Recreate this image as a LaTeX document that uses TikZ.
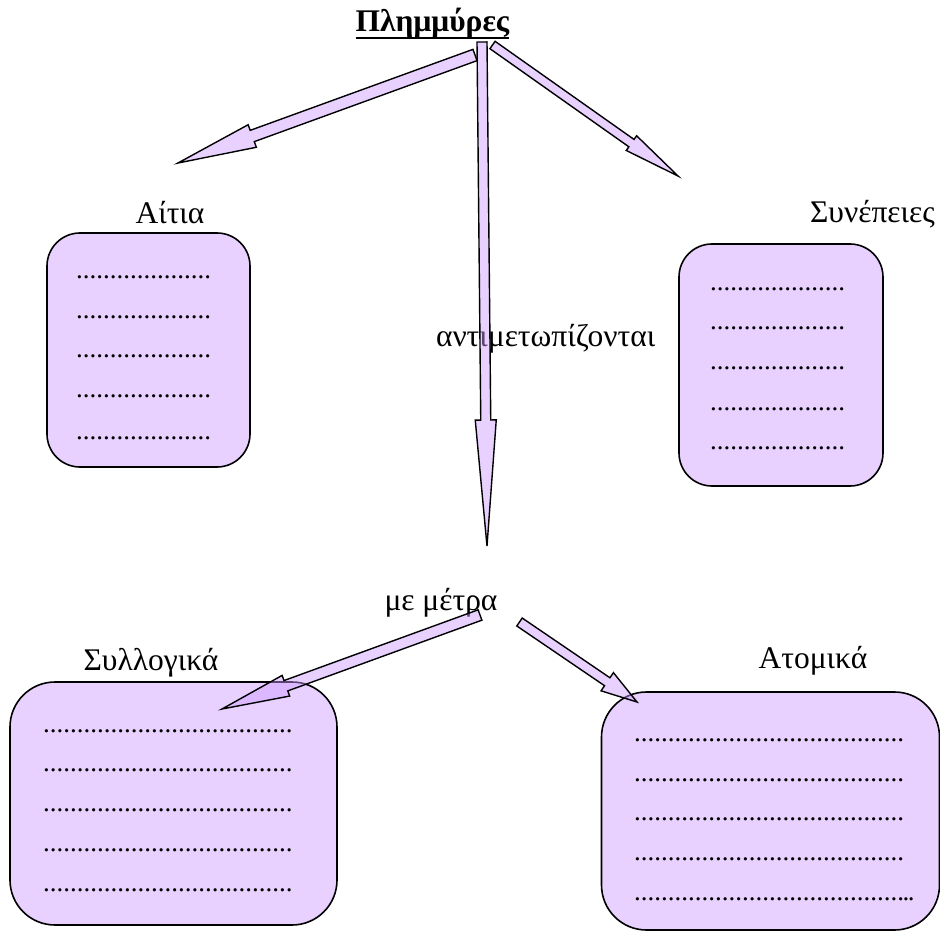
\documentclass[tikz,border=0pt]{standalone}
\usepackage{fontspec}
\setmainfont{Liberation Serif}
\usetikzlibrary{calc}
\definecolor{lav}{RGB}{204,153,255}
\newcount\dotcnt
\newcommand{\dotline}[1]{\dotcnt=0\relax\loop\ifnum\dotcnt<#1 .\advance\dotcnt by 1\relax\repeat}
\tikzset{
  lbl/.style={font=\fontsize{31.5}{36}\selectfont, inner sep=0pt, outer sep=0pt},
  dotlbl/.style={font=\fontsize{27}{32}\selectfont, inner sep=0pt, outer sep=0pt, anchor=base west},
  roundbox/.style={draw=black, line width=1.6pt, fill=lav, fill opacity=0.45, rounded corners=#1, inner sep=0pt, outer sep=0pt},
  blockarr/.style={draw=black, line width=1.4pt, fill=lav, fill opacity=0.45},
}
% tail, tip, half shaft width, half head width, head length
\newcommand{\blockarrow}[5]{%
  \coordinate (ba-h) at ($(#2)!#5!(#1)$);
  \filldraw[blockarr] ($(#1)!#3!90:(#2)$) -- ($(ba-h)!#3!90:(#2)$) -- ($(ba-h)!#4!90:(#2)$) -- (#2)
     -- ($(ba-h)!#4!-90:(#2)$) -- ($(ba-h)!#3!-90:(#2)$) -- ($(#1)!#3!-90:(#2)$) -- cycle;
}
\begin{document}
\begin{tikzpicture}[x=1pt,y=-1pt]
\useasboundingbox (0,0) rectangle (940,933);

% boxes
\node[roundbox=33pt, minimum width=203pt, minimum height=234pt] (aitiabox) at (148.5,350) {};
\node[roundbox=33pt, minimum width=204pt, minimum height=242pt] (synbox) at (781,365) {};
\node[roundbox=45pt, minimum width=327pt, minimum height=243pt] (sylbox) at (173.5,803.5) {};
\node[roundbox=45pt, minimum width=338pt, minimum height=238pt] (atombox) at (770.5,811) {};

% labels
\node[lbl, font=\fontsize{31.5}{36}\selectfont\bfseries, anchor=base] (title) at (432.5,31.7) {Πλημμύρες};
\draw[line width=2.2pt] ([yshift=-6pt]title.base west) -- ([yshift=-6pt]title.base east);
\node[lbl, anchor=base] (aitia) at (170,224) {Αίτια};
\node[lbl, anchor=base] (synepeies) at (872.5,223) {Συνέπειες};
\node[lbl, anchor=base west] (antim) at (436,346.5) {αντιμετωπίζονται};
\node[lbl, anchor=base] (metra) at (441,610) {με μέτρα};
\node[lbl, anchor=base] (syllogika) at (151,670) {Συλλογικά};
\node[lbl, anchor=base] (atomika) at (813,668) {Ατομικά};

% dotted lines
\foreach \y [count=\i] in {279,319,358,397,439}
  \node[dotlbl] (ad\i) at (76,\y) {\dotline{20}};
\foreach \y [count=\i] in {291,330,370,410,449}
  \node[dotlbl] (sd\i) at (710,\y) {\dotline{20}};
\foreach \y [count=\i] in {732,771,811,851.5,891}
  \node[dotlbl] (yd\i) at (43,\y) {\dotline{37}};
\foreach \y [count=\i] in {741.5,781,820,860}
  \node[dotlbl] (md\i) at (634,\y) {\dotline{40}};
\node[dotlbl] (md5) at (634,900) {\dotline{40}\kern-1.5pt.\kern-1.5pt.};

% arrow end points
\coordinate (vTail) at (482,42);
\coordinate (vTip) at (487,546);
\coordinate (lTail) at (475,55);
\coordinate (lTip) at (178,163);
\coordinate (rTail) at (492.5,45);
\coordinate (rTip) at (678,176);
\coordinate (blTail) at (480,615);
\coordinate (blTip) at (222,709);
\coordinate (brTail) at (519.5,622);
\coordinate (brTip) at (637,702);

% block arrows
\blockarrow{vTail}{vTip}{5pt}{10.5pt}{126pt}
\blockarrow{lTail}{lTip}{6pt}{12pt}{79pt}
\blockarrow{rTail}{rTip}{4.5pt}{9pt}{57pt}
\blockarrow{blTail}{blTip}{5.5pt}{11pt}{68pt}
\blockarrow{brTail}{brTip}{4.8pt}{11pt}{36pt}
\end{tikzpicture}
\end{document}
